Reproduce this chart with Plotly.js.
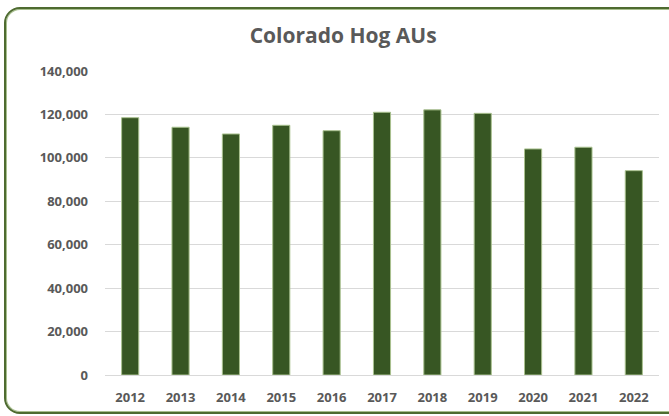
<!DOCTYPE html>
<html>
<head>
<meta charset="utf-8">
<script src="https://cdn.plot.ly/plotly-3.0.1.min.js"></script>
<style>
html,body{margin:0;padding:0;background:#fff;}
#wrap{position:relative;width:669px;height:416px;overflow:hidden;}
#chart{position:absolute;left:0;top:0;width:669px;height:416px;}
#frame{position:absolute;left:4px;top:7px;width:676px;height:403px;border:2px solid #4e6b30;border-radius:16px;box-shadow:inset 0 0 0 1px #a8bf8e;pointer-events:none;}
</style>
</head>
<body>
<div id="wrap">
<div id="chart"></div>
<div id="frame"></div>
</div>
<script>
const years = ['2012','2013','2014','2015','2016','2017','2018','2019','2020','2021','2022'];
const hogAUs = [118500, 114100, 111000, 115000, 112500, 121000, 122100, 120500, 104100, 104900, 94100];
const yTicks = [0, 20000, 40000, 60000, 80000, 100000, 120000, 140000];
const yTickLabels = ['0','20,000','40,000','60,000','80,000','100,000','120,000','140,000'];

const font = '"Open Sans", sans-serif';

Plotly.newPlot('chart', [{
  type: 'bar',
  x: years,
  y: hogAUs,
  marker: {color: '#375623', line: {color: '#a9c18f', width: 1}},
  hoverinfo: 'x+y'
}], {
  width: 669, height: 416,
  margin: {l: 105, r: 10, t: 71, b: 41},
  paper_bgcolor: 'rgba(0,0,0,0)',
  plot_bgcolor: '#fff',
  bargap: 0.66,
  showlegend: false,
  title: {text: '<b>Colorado Hog AUs</b>', x: 0.513, xanchor: 'center', y: 0.915, yanchor: 'middle',
          font: {family: font, size: 21, color: '#595959'}},
  xaxis: {
    type: 'category', showgrid: false, showline: true, linecolor: '#d9d9d9', linewidth: 1,
    ticks: '', ticklabelstandoff: 10, tickfont: {family: font, size: 13, color: '#595959', weight: 'bold'},
    ticklen: 0, zeroline: false
  },
  yaxis: {
    range: [0, 140000], tickvals: yTicks, ticktext: yTickLabels,
    showgrid: true, gridcolor: '#d9d9d9', gridwidth: 1, zeroline: false, showline: false,
    ticks: '', ticklabelstandoff: 16,
    tickfont: {family: font, size: 13, color: '#595959', weight: 'bold'}
  }
}, {displayModeBar: false, staticPlot: true});
</script>
</body>
</html>
